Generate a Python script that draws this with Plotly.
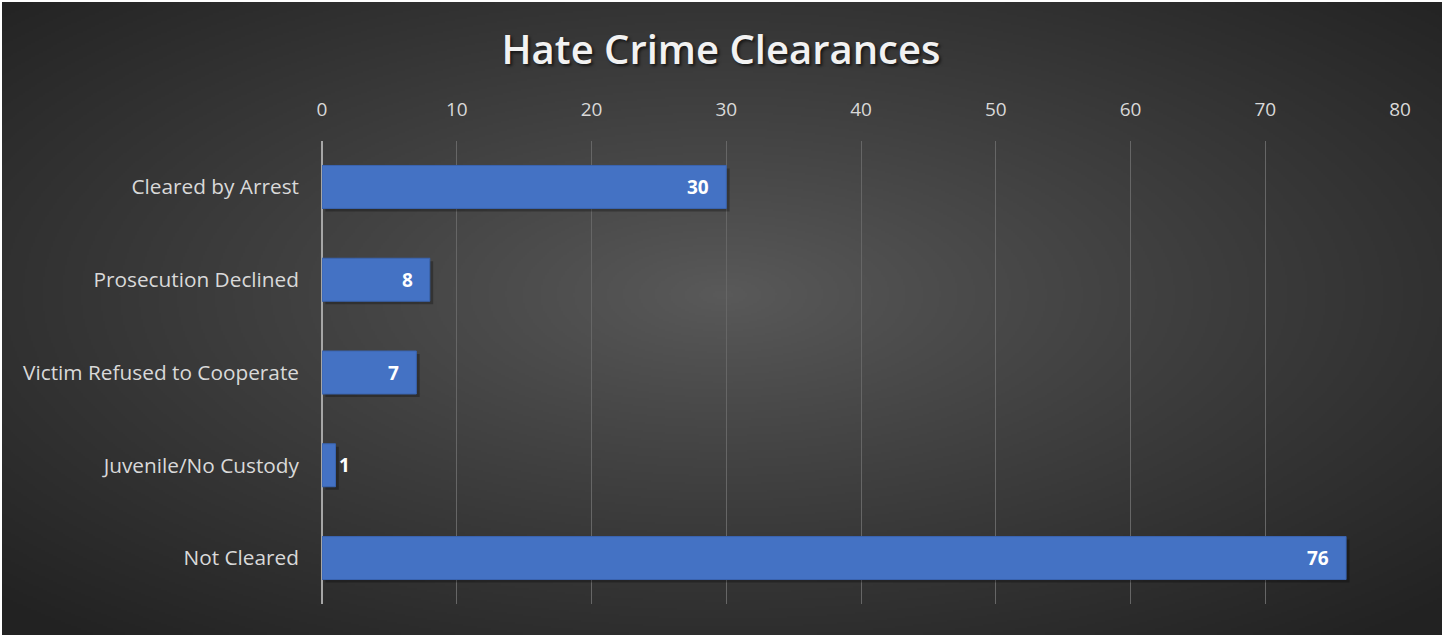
import base64
import struct
import zlib

import numpy as np
import plotly.graph_objects as go

# Clearance outcomes and counts
categories = [
    "Cleared by Arrest",
    "Prosecution Declined",
    "Victim Refused to Cooperate",
    "Juvenile/No Custody",
    "Not Cleared",
]
counts = [30, 8, 7, 1, 76]
x_ticks = [0, 10, 20, 30, 40, 50, 60, 70, 80]

W, H = 1442, 635
BAR_COLOR = "#4472C4"
TEXT_COLOR = "#d9d9d9"
FONT = "Open Sans"


def png_data_uri(gray):
    """Encode a 2-D uint8 array as a grayscale PNG data URI."""
    h, w = gray.shape
    raw = b"".join(b"\x00" + gray[r].tobytes() for r in range(h))

    def chunk(tag, data):
        c = tag + data
        return struct.pack(">I", len(data)) + c + struct.pack(">I", zlib.crc32(c) & 0xFFFFFFFF)

    png = b"\x89PNG\r\n\x1a\n"
    png += chunk(b"IHDR", struct.pack(">IIBBBBB", w, h, 8, 0, 0, 0, 0))
    png += chunk(b"IDAT", zlib.compress(raw, 9))
    png += chunk(b"IEND", b"")
    return "data:image/png;base64," + base64.b64encode(png).decode()


# Radial background: lighter in the middle, darker towards the corners
gw, gh = 720, 317
yy, xx = np.mgrid[0:gh, 0:gw]
cx, cy = gw * 0.5, gh * 0.46
r = np.sqrt(((xx - cx) / (gw / 2)) ** 2 + ((yy - cy) / (gh / 2)) ** 2) / np.sqrt(2)
r = np.clip(r, 0, 1)
shade = 90 - (90 - 34) * r ** 0.9
bg = png_data_uri(np.clip(shade, 0, 255).astype(np.uint8))

# Plot area in pixels
px0, px1 = 322, 1400
py0, py1 = 140.6, 604.4

fig = go.Figure()

band = (py1 - py0) / len(categories)
bar_w = 43 / band

# soft drop shadow under each bar
fig.add_trace(go.Bar(
    y=categories, x=counts, orientation="h",
    base=0.25, width=bar_w, offset=-bar_w / 2 + 3 / band,
    marker=dict(color="rgba(0,0,0,0.28)", line=dict(width=0)),
    hoverinfo="skip", showlegend=False,
))

fig.add_trace(go.Bar(
    y=categories, x=counts, orientation="h",
    width=bar_w, offset=-bar_w / 2,
    marker=dict(color=BAR_COLOR, line=dict(color="#3a64b0", width=1)),
    showlegend=False,
))

# value labels at the end of each bar
for cat, v in zip(categories, counts):
    inside = v >= 5
    fig.add_annotation(
        x=v, y=cat, xref="x", yref="y", text=f"<b>{v}</b>", showarrow=False,
        xanchor="right" if inside else "left", xshift=-15 if inside else 2,
        font=dict(family=FONT, size=19, color="#ffffff"),
    )

fig.update_layout(
    width=W, height=H,
    margin=dict(l=0, r=0, t=0, b=0),
    paper_bgcolor="#ffffff",
    plot_bgcolor="rgba(0,0,0,0)",
    barmode="overlay",
    images=[dict(
        source=bg, xref="paper", yref="paper",
        x=2 / W, y=1 - 2 / H, sizex=1 - 2 / W, sizey=1 - 2 / H,
        xanchor="left", yanchor="top", sizing="stretch", layer="below",
    )],
    title=dict(
        text="Hate Crime Clearances",
        x=0.5, xanchor="center", xref="paper",
        y=1 - 50 / H, yanchor="middle", yref="paper",
        font=dict(family=FONT, size=40, weight=600, color="#f2f2f2",
                  shadow="2px 2px 3px rgba(0,0,0,0.6)"),
    ),
    xaxis=dict(
        domain=[px0 / W, px1 / W],
        range=[0, 80], side="top",
        tickvals=x_ticks, ticktext=[str(t) for t in x_ticks],
        showgrid=True, gridcolor="#666666", gridwidth=1,
        zeroline=True, zerolinecolor="#a6a6a6", zerolinewidth=2,
        showline=False, ticks="", ticklabelstandoff=20,
        tickfont=dict(family=FONT, size=19, color=TEXT_COLOR),
        automargin=False, fixedrange=True,
    ),
    yaxis=dict(
        domain=[1 - py1 / H, 1 - py0 / H],
        autorange="reversed", type="category",
        showgrid=False, zeroline=False, showline=False, ticks="",
        ticklabelstandoff=22,
        tickfont=dict(family=FONT, size=20.8, color=TEXT_COLOR),
        automargin=False, fixedrange=True,
    ),
)

fig.write_html("out.html")
